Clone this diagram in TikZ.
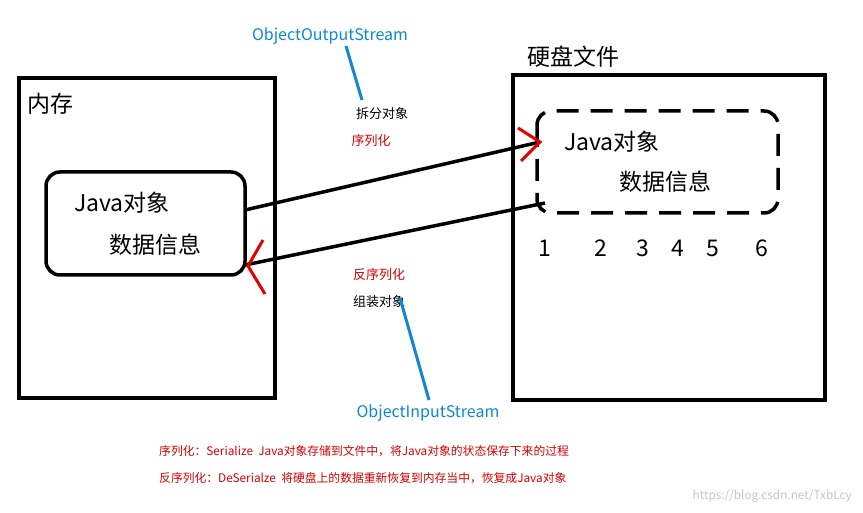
\documentclass[tikz,border=0pt]{standalone}
\usepackage{fontspec}
\setmainfont{Noto Sans CJK SC}
\begin{document}
\begin{tikzpicture}[x=1pt,y=-1pt,
  frame/.style={draw,line width=3.5pt},
  rbox/.style={draw,line width=3.5pt,rounded corners=14pt},
  big/.style={font=\fontsize{23}{26}\selectfont,inner sep=0},
  lbl/.style={font=\fontsize{13}{15}\selectfont,inner sep=0},
  lblb/.style={font=\fontsize{16}{18}\selectfont,inner sep=0},
  low/.style={font=\fontsize{11.8}{14}\selectfont,inner sep=0},
  red/.style={text=red!85!black},
  blu/.style={text=cyan!70!blue},
  link/.style={line width=3.5pt},
  tip/.style={draw=red!90!black,line width=3pt}]
\useasboundingbox[fill=white] (0,0) rectangle (863,513);
\draw[frame] (19,78) rectangle (275,398);
\draw[frame] (513,75) rectangle (825,400);
\node[big,anchor=west] (mem) at (27,104) {内存};
\node[big,anchor=west] (disk) at (527,57) {硬盘文件};
\draw[rbox] (46,172) rectangle (245,275);
\coordinate (la) at (245,210); \coordinate (lb) at (245,265);
\node[big,anchor=west] at (74,203) {Java对象};
\node[big,anchor=west] at (109,245) {数据信息};
\draw[rbox,dash pattern=on 22pt off 12pt] (537,111) rectangle (778,213);
\coordinate (ra) at (540,142); \coordinate (rb) at (545,203);
\node[big,anchor=west] at (564,142) {Java对象};
\node[big,anchor=west] at (619,182) {数据信息};
\foreach \x/\n in {545/1,601/2,643/3,678/4,713/5,762/6}
  \node[big] (n\n) at (\x,248) {\n};
\draw[link] (la) -- (ra);
\draw[link] (rb) -- (lb);
\draw[tip] (518,128) -- (ra) -- (521,161);
\draw[tip] (263,240) -- (248,266) -- (265,294);
\node[lblb,blu] (oos) at (330,36) {ObjectOutputStream};
\node[lbl] (cf) at (382,114) {拆分对象};
\node[lbl,red] (xl) at (371,141) {序列化};
\node[lbl,red] (fx) at (379,275) {反序列化};
\node[lbl] (zz) at (379,302) {组装对象};
\node[lblb,blu] (ois) at (428,413) {ObjectInputStream};
\draw[draw=cyan!70!blue,line width=3pt] (346,46) -- (362,100);
\draw[draw=cyan!70!blue,line width=3pt] (400,298) -- (429,400);
\node[low,red,anchor=west] at (159,451) {序列化：Serialize\ \ Java对象存储到文件中，将Java对象的状态保存下来的过程};
\node[low,red,anchor=west] at (159,478) {反序列化：DeSerialze\ \ 将硬盘上的数据重新恢复到内存当中，恢复成Java对象};
\node[low,text=gray!45,anchor=east] at (852,496) {https://blog.csdn.net/TxbLcy};
\end{tikzpicture}
\end{document}
